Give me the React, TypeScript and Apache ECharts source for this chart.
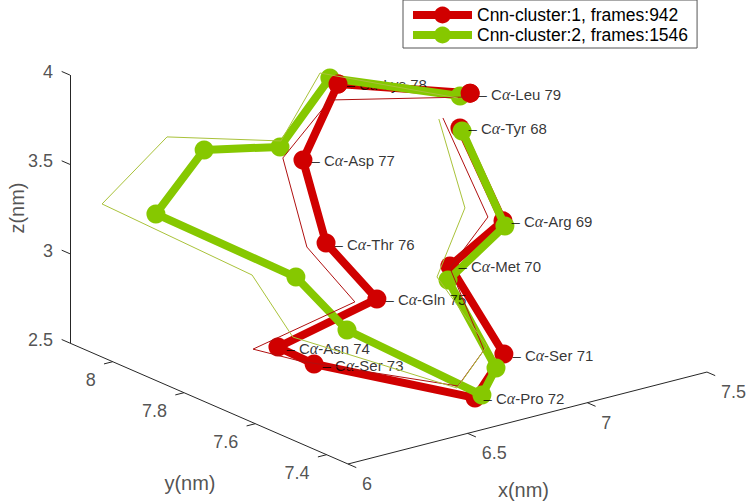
import React, { useEffect, useRef } from "react";
import * as echarts from "echarts";

// ---------- data (nm) ----------
const residues = ["Tyr 68", "Arg 69", "Met 70", "Ser 71", "Pro 72", "Ser 73", "Asn 74", "Gln 75", "Thr 76", "Asp 77", "Lys 78", "Leu 79"];

const cluster1Name = "Cnn-cluster:1, frames:942";
const cluster2Name = "Cnn-cluster:2, frames:1546";

// cluster 1 (thick red)
const c1X = [7.004, 7.035, 6.843, 6.860, 6.620, 6.469, 6.467, 6.657, 6.668, 6.646, 6.718, 6.972];
const c1Y = [7.70, 7.60, 7.62, 7.48, 7.40, 7.75, 7.85, 7.70, 7.85, 7.90, 7.85, 7.65];
const c1Z = [3.724, 3.280, 3.076, 2.699, 2.605, 2.543, 2.552, 2.886, 3.065, 3.494, 3.938, 3.973];

// cluster 2 (thick green)
const c2X = [7.013, 7.043, 6.835, 6.827, 6.649, 6.532, 6.542, 6.255, 6.382, 6.550, 6.684, 6.930];
const c2Y = [7.70, 7.60, 7.62, 7.48, 7.40, 7.70, 7.85, 8.05, 8.00, 7.90, 7.85, 7.65];
const c2Z = [3.704, 3.249, 3.000, 2.632, 2.611, 2.755, 2.918, 3.196, 3.554, 3.600, 3.983, 3.971];

// thin red trace
const t1X = [6.933, 6.972, 6.843, 6.777, 6.549, 6.410, 6.363, 6.565, 6.588, 6.562, 6.684, 6.955];
const t1Y = c1Y;
const t1Z = [3.804, 3.323, 3.065, 2.750, 2.696, 2.580, 2.576, 2.901, 3.070, 3.534, 3.860, 3.957];

// thin green trace
const t2X = [6.916, 6.876, 6.789, 6.789, 6.545, 6.306, 6.359, 6.030, 6.227, 6.554, 6.643, 6.921];
const t2Y = c2Y;
const t2Z = [3.804, 3.407, 3.033, 2.768, 2.686, 2.793, 2.992, 3.329, 3.680, 3.632, 4.025, 3.963];

// cluster-1 residues whose markers sit in front of cluster 2
const frontResidues = ["Lys 78", "Leu 79"];
// labels that sit behind the cluster-2 trace
const hiddenLabels = ["Lys 78"];

// axis limits and ticks
const xLim = [6, 7.5];
const yLim = [7.34, 8.12];
const zLim = [2.5, 4];
const xTicks = [6, 6.5, 7, 7.5];
const yTicks = [7.4, 7.6, 7.8, 8];
const zTicks = [2.5, 3, 3.5, 4];

// ---------- camera (oblique 3D projection onto the page) ----------
const CAM = {
  origin: [348, 464],
  ex: [239.3, -61.3],
  ey: [-356.5, -155],
  ez: [0, -178.7],
};

function proj(x: number, y: number, z: number): number[] {
  const dx = x - xLim[0];
  const dy = y - yLim[0];
  const dz = z - zLim[0];
  return [
    CAM.origin[0] + dx * CAM.ex[0] + dy * CAM.ey[0] + dz * CAM.ez[0],
    CAM.origin[1] + dx * CAM.ex[1] + dy * CAM.ey[1] + dz * CAM.ez[1],
  ];
}
function unit(v: number[], s: number): number[] {
  const l = Math.hypot(v[0], v[1]);
  return [(v[0] / l) * s, (v[1] / l) * s];
}

const FONT = "'Liberation Sans', Arial, Helvetica, sans-serif";
const AXIS_COLOR = "#262626";
const RED = "#D00000";
const GREEN = "#86C800";
const THIN_RED = "#B01010";
const THIN_GREEN = "#A9C23A";

export default function App() {
  const ref = useRef<HTMLDivElement>(null);

  useEffect(() => {
    if (!ref.current) return;
    const chart = echarts.init(ref.current, undefined, { renderer: "svg" });

    const path = (X: number[], Y: number[], Z: number[]) => X.map((_, i) => proj(X[i], Y[i], Z[i]));

    const TL = 9;
    const axisSegs: any[] = [
      { coords: [proj(xLim[0], yLim[1], zLim[0]), proj(xLim[0], yLim[1], zLim[1])] },
      { coords: [proj(xLim[0], yLim[1], zLim[0]), proj(xLim[0], yLim[0], zLim[0])] },
      { coords: [proj(xLim[0], yLim[0], zLim[0]), proj(xLim[1], yLim[0], zLim[0])] },
    ];
    zTicks.forEach((z) => {
      const p = proj(xLim[0], yLim[1], z);
      const d = unit(CAM.ey, TL);
      axisSegs.push({ coords: [p, [p[0] + d[0], p[1] + d[1]]] });
    });
    yTicks.forEach((y) => {
      const p = proj(xLim[0], y, zLim[0]);
      const d = unit([-CAM.ex[0], -CAM.ex[1]], TL);
      axisSegs.push({ coords: [p, [p[0] + d[0], p[1] + d[1]]] });
    });
    xTicks.forEach((x) => {
      const p = proj(x, yLim[0], zLim[0]);
      const d = unit([-CAM.ey[0], -CAM.ey[1]], TL);
      axisSegs.push({ coords: [p, [p[0] + d[0], p[1] + d[1]]] });
    });

    const tickText = { fontSize: 18, color: AXIS_COLOR, fontFamily: FONT };
    const tickSeries = (data: any[], align: string, offset: number[]) => ({
      type: "scatter",
      symbolSize: 1,
      silent: true,
      itemStyle: { color: "rgba(0,0,0,0)" },
      data,
      label: {
        show: true,
        position: "inside",
        align,
        verticalAlign: "middle",
        offset,
        formatter: "{b}",
        ...tickText,
      },
      z: 1,
    });

    const residueLabels = (hidden: boolean, z: number) => ({
      type: "scatter",
      symbolSize: 1,
      silent: true,
      itemStyle: { color: "rgba(0,0,0,0)" },
      data: residues
        .map((r, i) => ({ name: r, value: proj(c1X[i], c1Y[i], c1Z[i]) }))
        .filter((d) => hiddenLabels.includes(d.name) === hidden),
      label: {
        show: true,
        position: "right",
        distance: 8,
        offset: [0, 1],
        color: "#000",
        fontSize: 15,
        fontFamily: FONT,
        formatter: (p: any) => "– C{a|α}-" + p.name,
        rich: {
          a: { fontFamily: "'Liberation Serif', 'DejaVu Serif', serif", fontStyle: "italic", fontSize: 16, color: "#000" },
        },
      },
      z,
    });

    const option: any = {
      animation: false,
      backgroundColor: "#fff",
      grid: { left: 0, right: 0, top: 0, bottom: 0 },
      xAxis: { type: "value", min: 0, max: 748, show: false },
      yAxis: { type: "value", min: 0, max: 502, inverse: true, show: false },
      legend: {
        data: [cluster1Name, cluster2Name],
        orient: "vertical",
        left: 403,
        top: 0,
        itemWidth: 59,
        itemHeight: 21,
        itemGap: 2,
        padding: [6, 9, 4, 6],
        borderColor: "#555",
        borderWidth: 1,
        backgroundColor: "#fff",
        lineStyle: { width: 8 },
        textStyle: { fontSize: 17.5, color: "#000", fontFamily: FONT },
      },
      series: [
        {
          type: "lines",
          coordinateSystem: "cartesian2d",
          silent: true,
          lineStyle: { color: AXIS_COLOR, width: 1, opacity: 1 },
          data: axisSegs,
          z: 1,
        },
        tickSeries(zTicks.map((z) => ({ name: String(z), value: proj(xLim[0], yLim[1], z) })), "right", [-17, -3]),
        tickSeries(yTicks.map((y) => ({ name: String(y), value: proj(xLim[0], y, zLim[0]) })), "right", [-17, 18]),
        tickSeries(xTicks.map((x) => ({ name: String(x), value: proj(x, yLim[0], zLim[0]) })), "left", [14, 20]),
        {
          type: "scatter",
          symbolSize: 1,
          silent: true,
          itemStyle: { color: "rgba(0,0,0,0)" },
          data: [
            { name: "z(nm)", value: proj(xLim[0], yLim[1], (zLim[0] + zLim[1]) / 2), label: { offset: [1, -53], rotate: 90 } },
            { name: "y(nm)", value: proj(xLim[0], (yLim[0] + yLim[1]) / 2, zLim[0]), label: { offset: [-19, 79] } },
            { name: "x(nm)", value: proj((xLim[0] + xLim[1]) / 2, yLim[0], zLim[0]), label: { offset: [-4, 72] } },
          ],
          label: {
            show: true,
            position: "inside",
            align: "center",
            verticalAlign: "middle",
            formatter: "{b}",
            fontSize: 20,
            color: AXIS_COLOR,
            fontFamily: FONT,
          },
          z: 1,
        },
        {
          name: cluster1Name,
          type: "line",
          data: path(c1X, c1Y, c1Z),
          symbol: "circle",
          symbolSize: 19,
          showAllSymbol: true,
          clip: false,
          lineStyle: { color: RED, width: 8 },
          itemStyle: { color: RED },
          z: 2,
        },
        residueLabels(true, 2),
        {
          name: cluster2Name,
          type: "line",
          data: path(c2X, c2Y, c2Z),
          symbol: "circle",
          symbolSize: 19,
          showAllSymbol: true,
          clip: false,
          lineStyle: { color: GREEN, width: 8 },
          itemStyle: { color: GREEN },
          z: 3,
        },
        {
          type: "scatter",
          symbol: "circle",
          symbolSize: 19,
          silent: true,
          itemStyle: { color: RED, opacity: 1 },
          data: residues
            .map((r, i) => ({ r, i }))
            .filter((o) => frontResidues.includes(o.r))
            .map((o) => proj(c1X[o.i], c1Y[o.i], c1Z[o.i])),
          z: 3.5,
        },
        residueLabels(false, 3.6),
        {
          type: "line",
          data: path(t1X, t1Y, t1Z),
          symbol: "none",
          clip: false,
          silent: true,
          lineStyle: { color: THIN_RED, width: 1 },
          z: 4,
        },
        {
          type: "line",
          data: path(t2X, t2Y, t2Z),
          symbol: "none",
          clip: false,
          silent: true,
          lineStyle: { color: THIN_GREEN, width: 1 },
          z: 4,
        },
      ],
    };

    chart.setOption(option);
    return () => chart.dispose();
  }, []);

  return <div ref={ref} style={{ position: "absolute", left: 0, top: 0, width: 748, height: 502 }} />;
}
